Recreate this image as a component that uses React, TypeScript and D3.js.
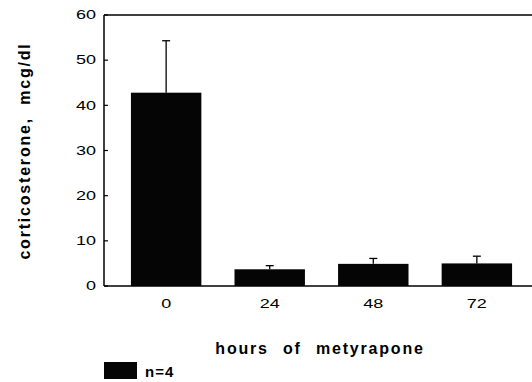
import React, { useEffect, useRef } from "react";
import * as d3 from "d3";

const hours = ["0", "24", "48", "72"];
const means = [42.8, 3.7, 4.9, 5.0];
const errTop = [54.3, 4.5, 6.1, 6.6];
const yTicks = [0, 10, 20, 30, 40, 50, 60];

const App: React.FC = () => {
  const svgRef = useRef<SVGSVGElement>(null);
  const width = 532;
  const height = 382;

  useEffect(() => {
    if (!svgRef.current) return;
    const svg = d3.select(svgRef.current);
    svg.selectAll("*").remove();

    const left = 104;
    const top = 15;
    const bottom = 286;
    const font = "Liberation Sans, Arial, sans-serif";

    const x = d3
      .scaleBand<string>()
      .domain(hours)
      .range([left, 539])
      .paddingInner(0.32)
      .paddingOuter(0.26);
    const y = d3.scaleLinear().domain([0, 60]).range([bottom, top]);

    // frame: left axis, top line, baseline
    const frame = svg.append("g").attr("stroke", "#000").attr("stroke-width", 1.5);
    frame.append("line").attr("x1", left).attr("x2", left).attr("y1", y(60)).attr("y2", y(0));
    frame.append("line").attr("x1", left).attr("x2", width).attr("y1", y(60)).attr("y2", y(60));
    frame.append("line").attr("x1", left).attr("x2", width).attr("y1", y(0)).attr("y2", y(0));

    // y ticks
    const yt = svg.append("g");
    yt.selectAll("line")
      .data(yTicks)
      .enter()
      .append("line")
      .attr("x1", left)
      .attr("x2", left + 4)
      .attr("y1", (d) => y(d))
      .attr("y2", (d) => y(d))
      .attr("stroke", "#000")
      .attr("stroke-width", 1.2);
    yt.selectAll("text")
      .data(yTicks)
      .enter()
      .append("text")
      .attr("transform", (d) => `translate(${left - 8},${y(d)}) scale(1.5,1)`)
      .attr("dy", "0.36em")
      .attr("text-anchor", "end")
      .style("font-family", font)
      .style("font-size", "12px")
      .text((d) => d);

    // bars
    svg
      .selectAll("rect.bar")
      .data(means)
      .enter()
      .append("rect")
      .attr("class", "bar")
      .attr("x", (_, i) => x(hours[i])!)
      .attr("y", (d) => y(d))
      .attr("width", x.bandwidth())
      .attr("height", (d) => y(0) - y(d))
      .attr("fill", "#050505");

    // error bars
    const eb = svg.append("g").attr("stroke", "#000").attr("stroke-width", 1.3);
    hours.forEach((h, i) => {
      const cx = x(h)! + x.bandwidth() / 2;
      eb.append("line")
        .attr("x1", cx)
        .attr("x2", cx)
        .attr("y1", y(means[i]))
        .attr("y2", y(errTop[i]));
      eb.append("line")
        .attr("x1", cx - 4)
        .attr("x2", cx + 4)
        .attr("y1", y(errTop[i]))
        .attr("y2", y(errTop[i]));
    });

    // x tick labels
    svg
      .selectAll("text.xl")
      .data(hours)
      .enter()
      .append("text")
      .attr("class", "xl")
      .attr("transform", (d) => `translate(${x(d)! + x.bandwidth() / 2},307.5) scale(1.5,1)`)
      .attr("text-anchor", "middle")
      .style("font-family", font)
      .style("font-size", "12px")
      .text((d) => d);

    // axis titles
    svg
      .append("text")
      .attr("x", 320)
      .attr("y", 354)
      .attr("text-anchor", "middle")
      .style("font-family", font)
      .style("font-size", "16px")
      .style("font-weight", "bold")
      .style("letter-spacing", "1.8px")
      .style("word-spacing", "8px")
      .text("hours of metyrapone");

    svg
      .append("text")
      .attr("transform", `translate(30,151) rotate(-90)`)
      .attr("text-anchor", "middle")
      .style("font-family", font)
      .style("font-size", "16px")
      .style("font-weight", "bold")
      .style("letter-spacing", "1.8px")
      .style("word-spacing", "6px")
      .text("corticosterone, mcg/dl");

    // legend
    svg
      .append("rect")
      .attr("x", left)
      .attr("y", 362)
      .attr("width", 33)
      .attr("height", 17)
      .attr("fill", "#050505");
    svg
      .append("text")
      .attr("x", 145)
      .attr("y", 377)
      .style("font-family", font)
      .style("font-size", "15px")
      .style("font-weight", "bold")
      .style("letter-spacing", "1px")
      .text("n=4");
  }, []);

  return (
    <svg
      ref={svgRef}
      width={width}
      height={height}
      viewBox={`0 0 ${width} ${height}`}
      style={{ position: "absolute", left: 0, top: 0, background: "#fff" }}
    />
  );
};

export default App;
